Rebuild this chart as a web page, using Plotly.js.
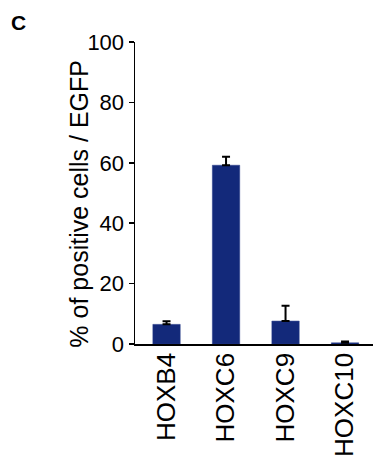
<!DOCTYPE html>
<html>
<head>
<meta charset="utf-8">
<script src="https://cdn.plot.ly/plotly-3.0.1.min.js"></script>
<style>html,body{margin:0;padding:0;background:#fff;}#chart{width:373px;height:455px;}</style>
</head>
<body>
<div id="chart"></div>
<script>
var categories = ["HOXB4", "HOXC6", "HOXC9", "HOXC10"];
var values = [6.5, 59.2, 7.6, 0.4];
var errors = [1.0, 2.8, 5.1, 0.4];
var yTicks = [0, 20, 40, 60, 80, 100];
var yTitle = "% of positive cells / EGFP";
var panelLabel = "C";

var trace = {
  type: "bar",
  x: categories,
  y: values,
  marker: {color: "#13297a", line: {color: "#2a3f8a", width: 0.5}},
  width: 0.46,
  error_y: {type: "data", array: errors, symmetric: false, arrayminus: [0,0,0,0], color: "#000", thickness: 2, width: 4},
  hoverinfo: "none"
};

var layout = {
  width: 373, height: 455,
  margin: {l: 135, r: 0, t: 42, b: 111, pad: 0},
  paper_bgcolor: "#fff", plot_bgcolor: "#fff",
  font: {family: "Liberation Sans, Arial, sans-serif", color: "#000"},
  showlegend: false,
  xaxis: {
    type: "category",
    range: [-0.53, 3.47],
    showline: true, linecolor: "#000", linewidth: 1.5,
    ticks: "", ticklen: 0, tickangle: -90, ticklabelstandoff: -3,
    tickfont: {size: 26, color: "#000"},
    showgrid: false, zeroline: false, automargin: false
  },
  yaxis: {
    range: [0, 100],
    tickvals: yTicks,
    showline: true, linecolor: "#000", linewidth: 1.5,
    ticks: "outside", ticklen: 5, tickwidth: 1.5, tickcolor: "#000",
    tickfont: {size: 22, color: "#000"},
    showgrid: false, zeroline: false, automargin: false
  },
  annotations: [{
    text: "<b>" + panelLabel + "</b>", xref: "paper", yref: "paper", x: -0.49, y: 1.066,
    xanchor: "center", yanchor: "middle", showarrow: false,
    font: {size: 21, color: "#000"}
  }, {
    text: yTitle, xref: "paper", yref: "paper", x: -0.235, y: 0.465,
    xanchor: "center", yanchor: "middle", showarrow: false, textangle: -90,
    font: {size: 25, color: "#000"}
  }]
};

Plotly.newPlot("chart", [trace], layout, {displayModeBar: false, staticPlot: true});
</script>
</body>
</html>
